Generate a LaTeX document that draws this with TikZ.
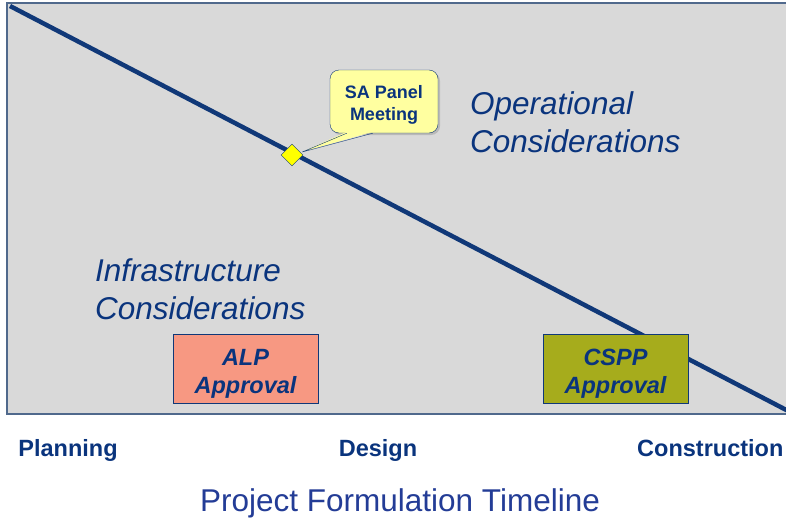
\documentclass[tikz,border=0pt]{standalone}
\usepackage{fontspec}
\setmainfont{Liberation Sans}
\usepackage{xcolor}
\definecolor{tlnavy}{RGB}{16, 56, 120}
\definecolor{tltext}{RGB}{10, 52, 125}
\definecolor{tltitle}{RGB}{35, 60, 150}
\definecolor{tlpanel}{RGB}{217, 217, 217}
\definecolor{tledge}{RGB}{80, 105, 140}
\definecolor{tlsalmon}{RGB}{247, 152, 130}
\definecolor{tlolive}{RGB}{166, 172, 28}
\definecolor{tlnote}{RGB}{255, 255, 160}
\definecolor{tlmark}{RGB}{255, 255, 0}
\usetikzlibrary{shapes.geometric, positioning, calc, shadows}

\begin{document}
\begin{tikzpicture}[
        x=1pt, y=-1pt,
        approval/.style={
            rectangle,
            draw=tlnavy,
            thick,
            minimum width=145pt,
            minimum height=69pt,
            align=center,
            inner sep=0pt,
            text height=55pt,
            text=tltext,
            font=\fontsize{23.5}{28.5}\selectfont\bfseries\itshape
        },
        phase/.style={text=tltext, inner sep=0pt, font=\fontsize{23.5}{26}\selectfont\bfseries},
        region/.style={text=tltext, inner sep=0pt, align=left, font=\fontsize{31.5}{38}\selectfont\itshape},
        note/.style={
            rectangle,
            draw=tlnavy,
            fill=tlnote,
            rounded corners=9pt,
            minimum width=108pt,
            minimum height=63pt,
            align=center,
            inner sep=0pt,
            text height=42pt,
            text=tltext,
            font=\fontsize{18}{22.5}\selectfont\bfseries,
            drop shadow={shadow xshift=2pt, shadow yshift=-2pt, opacity=0.35}
        },
        milestone/.style={diamond, draw=tlnavy, fill=tlmark, minimum size=22pt, inner sep=0pt}
    ]
        \useasboundingbox (0,0) rectangle (786,522);

        % background panel
        \fill[tlpanel] (7,3) rectangle (800,414);
        \draw[tledge, line width=1.2pt] (800,414) -- (7,414) -- (7,3) -- (800,3);

        % the dividing line
        \coordinate (lstart) at (10,6);
        \coordinate (lend) at (794,414);
        \draw[tlnavy, line width=4.5pt] (lstart) -- (lend);

        % regions
        \node[region, anchor=north west] (ops) at (470,91) {Operational\\Considerations};
        \node[region, anchor=north west] (infra) at (95,258) {Infrastructure\\Considerations};

        % approvals
        \node[approval, fill=tlsalmon] (alp) at (245.5,368.5) {ALP\\Approval};
        \node[approval, fill=tlolive] (cspp) at (615.5,368.5) {CSPP\\Approval};

        % milestone and callout
        \node[milestone] (panel) at (292,155) {};
        \node[note] (meet) at (384,101.5) {SA Panel\\Meeting};
        \coordinate (pa) at ($(meet.south west)+(17,0)$);
        \coordinate (pb) at ($(meet.south west)+(43,0)$);
        \coordinate (tip) at ($(panel.east)+(-1,-3)$);
        \fill[tlnote] ($(pa)+(0,-1.5)$) -- (tip) -- ($(pb)+(0,-1.5)$) -- cycle;
        \draw[tlnavy] (pa) -- (tip) -- (pb);

        % phases
        \node[phase, anchor=base] (plan) at (68,456) {Planning};
        \node[phase, anchor=base] (design) at (378,456) {Design};
        \node[phase, anchor=base west] (build) at (637,456) {Construction};

        \node[text=tltitle, inner sep=0pt, anchor=base, font=\fontsize{31.5}{36}\selectfont] (title) at (400,511) {Project Formulation Timeline};
    \end{tikzpicture}
\end{document}
